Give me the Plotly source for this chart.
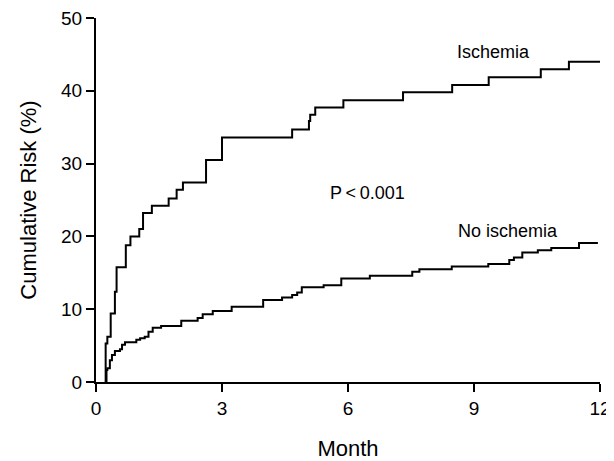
import plotly.graph_objects as go

# Ischemia curve (month, cumulative risk %)
isch_month = [0.23, 0.23, 0.27, 0.35, 0.45, 0.49, 0.71, 0.82, 1.03, 1.12, 1.33, 1.73, 1.92, 2.07,
              2.62, 3.00, 4.67, 5.07, 5.10, 5.22, 5.89, 7.31, 8.48, 9.35, 10.59, 11.26, 12.0]
isch_risk = [0.0, 5.3, 6.2, 9.4, 12.4, 15.75, 18.8, 20.0, 21.0, 23.2, 24.2, 25.2, 26.4, 27.4,
             30.5, 33.6, 34.7, 35.85, 36.7, 37.7, 38.7, 39.8, 40.8, 41.85, 42.95, 44.0, 44.0]

# No ischemia curve
noisch_month = [0.23, 0.25, 0.27, 0.33, 0.38, 0.45, 0.57, 0.62, 0.69, 0.96, 1.05, 1.16, 1.25, 1.35,
                1.55, 2.03, 2.42, 2.54, 2.78, 3.23, 3.98, 4.43, 4.67, 4.79, 4.90, 5.42, 5.84,
                6.52, 7.53, 7.70, 8.47, 9.34, 9.84, 9.95, 10.15, 10.52, 10.84, 11.50, 11.95]
noisch_risk = [0.0, 1.65, 1.9, 3.0, 3.7, 4.26, 4.5, 5.1, 5.45, 5.8, 6.0, 6.2, 6.9, 7.46,
               7.7, 8.4, 8.8, 9.3, 9.75, 10.35, 11.26, 11.6, 11.95, 12.3, 13.0, 13.3, 14.2,
               14.6, 15.15, 15.5, 15.85, 16.2, 16.75, 17.1, 17.8, 18.1, 18.4, 19.1, 19.1]

x_ticks = [0, 3, 6, 9, 12]
y_ticks = [0, 10, 20, 30, 40, 50]

font_family = "Liberation Sans, Arial, Helvetica, sans-serif"

fig = go.Figure()
fig.add_trace(go.Scatter(x=isch_month, y=isch_risk, mode="lines", line_shape="hv",
                         line=dict(color="black", width=2), showlegend=False, hoverinfo="skip"))
fig.add_trace(go.Scatter(x=noisch_month, y=noisch_risk, mode="lines", line_shape="hv",
                         line=dict(color="black", width=2), showlegend=False, hoverinfo="skip"))

fig.add_annotation(x=9.47, y=45.3, text="Ischemia", showarrow=False,
                   font=dict(size=18, color="black", family=font_family))
fig.add_annotation(x=9.82, y=20.8, text="No ischemia", showarrow=False,
                   font=dict(size=18, color="black", family=font_family))
fig.add_annotation(x=6.46, y=26.0, text="P\u2009<\u20090.001", showarrow=False,
                   font=dict(size=18, color="black", family=font_family))

# page body has an 8px default margin, so the figure is 8px smaller each way
fig.update_layout(
    width=606, height=453,
    margin=dict(l=88, r=14, t=10, b=79, autoexpand=False),
    paper_bgcolor="white", plot_bgcolor="white",
    font=dict(family=font_family, color="black", size=19),
    xaxis=dict(range=[0, 12], tickvals=x_ticks, ticktext=[str(v) for v in x_ticks],
               showline=True, linecolor="black", linewidth=2, ticks="outside",
               ticklen=8, tickwidth=2, tickcolor="black", showgrid=False, zeroline=False,
               tickfont=dict(size=19), automargin=False, ticklabeloverflow="allow",
               title=dict(text="Month", font=dict(size=22), standoff=26)),
    yaxis=dict(range=[0, 50], tickvals=y_ticks, ticktext=[str(v) for v in y_ticks],
               showline=True, linecolor="black", linewidth=2, ticks="outside",
               ticklen=8, tickwidth=2, tickcolor="black", showgrid=False, zeroline=False,
               tickfont=dict(size=19), automargin=False, ticklabeloverflow="allow",
               title=dict(text="Cumulative Risk (%)", font=dict(size=22), standoff=18)),
)

fig.write_html("out.html")
